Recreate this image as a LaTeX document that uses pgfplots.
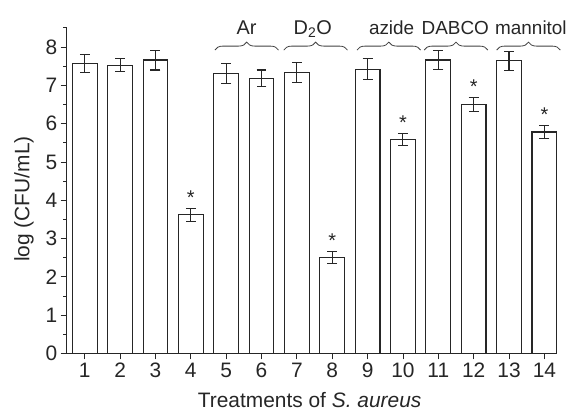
\documentclass[border=0pt]{standalone}
\usepackage{pgfplots}
\pgfplotsset{compat=1.18}
\usepackage{pgfplotstable}
\usepackage{fontspec}
\setmainfont{Liberation Sans}
\usetikzlibrary{decorations.pathreplacing}

\pgfplotstableread{
x y e
1 7.57 0.23
2 7.52 0.17
3 7.66 0.26
4 3.62 0.17
5 7.30 0.26
6 7.18 0.22
7 7.34 0.26
8 2.50 0.15
9 7.42 0.27
10 5.59 0.16
11 7.66 0.24
12 6.50 0.18
13 7.64 0.25
14 5.78 0.17
}\data

\begin{document}
\begin{tikzpicture}
\begin{axis}[
  scale only axis,
  width=493pt, height=327pt,
  xmin=0.49, xmax=14.37,
  ymin=0, ymax=8.5,
  axis x line*=bottom,
  axis y line*=left,
  axis line style={line width=1pt, black!85},
  xtick={1,...,14},
  ytick={0,1,...,8},
  minor ytick={0.5,1.5,...,8.5},
  tick align=outside,
  major tick length=6pt,
  minor tick length=3.5pt,
  tick style={line width=0.8pt, black!85},
  /pgf/number format/assume math mode=true,
  tick label style={font=\fontsize{21}{24}\selectfont, text=black!85},
  xlabel={Treatments of \textit{S. aureus}},
  ylabel={log (CFU/mL)},
  every axis x label/.style={at={(axis description cs:0.495,0)}, anchor=base, yshift=-54pt, font=\fontsize{21}{24}\selectfont, text=black!85},
  every axis y label/.style={at={(axis description cs:-0.0872,0.474)}, anchor=center, rotate=90, font=\fontsize{21}{24}\selectfont, text=black!85},
  clip=false,
]
\addplot[ybar, bar width=0.7, fill=white, draw=black!85, line width=1.1pt,
  error bars/.cd, y dir=both, y explicit,
  error bar style={line width=1.1pt, black!85},
  error mark options={rotate=90, mark size=5pt, line width=1.1pt, black!85}]
  table[x=x, y=y, y error=e] {\data};

% significance stars
\node[anchor=base, inner sep=0pt, font=\fontsize{20}{22}\selectfont, text=black!85] at (axis cs:4,3.79) [yshift=4pt] {*};
\node[anchor=base, inner sep=0pt, font=\fontsize{20}{22}\selectfont, text=black!85] at (axis cs:8,2.65) [yshift=4pt] {*};
\node[anchor=base, inner sep=0pt, font=\fontsize{20}{22}\selectfont, text=black!85] at (axis cs:10,5.75) [yshift=4pt] {*};
\node[anchor=base, inner sep=0pt, font=\fontsize{20}{22}\selectfont, text=black!85] at (axis cs:12,6.68) [yshift=4pt] {*};
\node[anchor=base, inner sep=0pt, font=\fontsize{20}{22}\selectfont, text=black!85] at (axis cs:14,5.95) [yshift=4pt] {*};

% braces
\draw[black!75, line width=0.8pt, decorate, decoration={brace, amplitude=8pt}] (axis cs:4.68,7.92) -- (axis cs:6.48,7.92);
\draw[black!75, line width=0.8pt, decorate, decoration={brace, amplitude=8pt}] (axis cs:6.63,7.92) -- (axis cs:8.43,7.92);
\draw[black!75, line width=0.8pt, decorate, decoration={brace, amplitude=8pt}] (axis cs:8.70,7.92) -- (axis cs:10.50,7.92);
\draw[black!75, line width=0.8pt, decorate, decoration={brace, amplitude=8pt}] (axis cs:10.60,7.92) -- (axis cs:12.40,7.92);
\draw[black!75, line width=0.8pt, decorate, decoration={brace, amplitude=8pt}] (axis cs:12.65,7.92) -- (axis cs:14.45,7.92);
\node[anchor=base, font=\fontsize{20}{22}\selectfont, text=black!85] at (axis cs:5.58,8.33) {Ar};
\node[anchor=base, font=\fontsize{20}{22}\selectfont, text=black!85] at (axis cs:7.45,8.33) {D\textsubscript{2}O};
\node[anchor=base, font=\fontsize{19}{21}\selectfont, text=black!85] at (axis cs:9.68,8.33) {azide};
\node[anchor=base, font=\fontsize{19}{21}\selectfont, text=black!85] at (axis cs:11.48,8.33) {DABCO};
\node[anchor=base, font=\fontsize{19}{21}\selectfont, text=black!85] at (axis cs:13.62,8.33) {mannitol};
\end{axis}
\path ([xshift=-67pt,yshift=-56pt]current axis.south west) rectangle ([xshift=10pt,yshift=28pt]current axis.north east);
\end{tikzpicture}
\end{document}
